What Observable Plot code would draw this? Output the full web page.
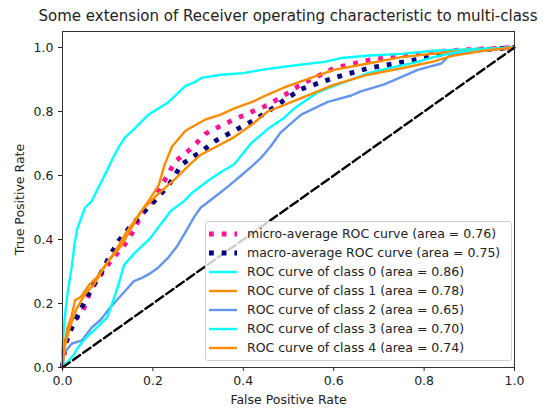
<!DOCTYPE html>
<html><head><meta charset="utf-8">
<script src="https://cdn.jsdelivr.net/npm/d3@7"></script>
<script src="https://cdn.jsdelivr.net/npm/@observablehq/plot@0.6"></script>
<style>
body{margin:0;background:#fff;font-family:"DejaVu Sans",sans-serif;}
#wrap{position:relative;width:552px;height:408px;overflow:hidden;}
#title{height:28px;box-sizing:border-box;padding-top:9px;padding-left:24px;font-size:15px;line-height:15px;text-align:center;color:#222;white-space:nowrap;}
#legend{position:absolute;left:205px;top:221px;width:307px;box-sizing:border-box;background:rgba(255,255,255,0.8);border:1px solid #d0d0d0;border-radius:3px;padding:2px 0 3px 0;font-size:12.5px;color:#222;}
.row{height:19px;display:flex;align-items:center;white-space:nowrap;}
.row svg{margin-left:3px;margin-right:10px;flex:none;}
</style></head>
<body>
<div id="wrap">
<div id="title">Some extension of Receiver operating characteristic to multi-class</div>
<div id="chart"></div>
<div id="legend"></div>
</div>
<script>
// ---- data ----
const fprMicro = [0, 0.005, 0.02, 0.043, 0.065, 0.09, 0.11, 0.13, 0.146, 0.176, 0.2, 0.22, 0.25, 0.286, 0.316, 0.35, 0.38, 0.42, 0.454, 0.49, 0.528, 0.6, 0.676, 0.75, 0.85, 1];
const tprMicro = [0, 0.06, 0.14, 0.17, 0.25, 0.3, 0.34, 0.37, 0.40, 0.48, 0.52, 0.57, 0.645, 0.686, 0.73, 0.755, 0.775, 0.80, 0.82, 0.85, 0.885, 0.935, 0.96, 0.975, 0.99, 1];
const fprMacro = [0, 0.005, 0.021, 0.04, 0.058, 0.087, 0.105, 0.124, 0.15, 0.183, 0.21, 0.235, 0.264, 0.308, 0.34, 0.38, 0.42, 0.454, 0.49, 0.528, 0.6, 0.676, 0.786, 0.82, 0.9, 1];
const tprMacro = [0, 0.07, 0.125, 0.18, 0.23, 0.30, 0.35, 0.395, 0.44, 0.49, 0.53, 0.57, 0.635, 0.676, 0.71, 0.74, 0.77, 0.80, 0.835, 0.87, 0.905, 0.935, 0.963, 0.975, 0.99, 1];
const fpr0 = [0, 0, 0.003, 0.006, 0.012, 0.021, 0.026, 0.032, 0.042, 0.05, 0.065, 0.075, 0.086, 0.1, 0.11, 0.125, 0.139, 0.155, 0.169, 0.19, 0.213, 0.235, 0.257, 0.272, 0.29, 0.308, 0.35, 0.4, 0.44, 0.49, 0.53, 0.58, 0.616, 0.68, 0.75, 0.82, 0.9, 1];
const tpr0 = [0, 0.06, 0.12, 0.17, 0.24, 0.32, 0.38, 0.43, 0.47, 0.50, 0.52, 0.55, 0.58, 0.62, 0.65, 0.69, 0.72, 0.74, 0.76, 0.79, 0.81, 0.83, 0.86, 0.88, 0.89, 0.905, 0.915, 0.92, 0.93, 0.94, 0.947, 0.955, 0.967, 0.975, 0.98, 0.99, 0.995, 1];
const fpr1 = [0, 0.003, 0.01, 0.02, 0.028, 0.04, 0.06, 0.075, 0.09, 0.105, 0.12, 0.14, 0.165, 0.19, 0.213, 0.225, 0.242, 0.272, 0.316, 0.35, 0.38, 0.42, 0.454, 0.49, 0.528, 0.6, 0.676, 0.75, 0.85, 0.92, 1];
const tpr1 = [0, 0.05, 0.12, 0.16, 0.21, 0.22, 0.26, 0.28, 0.31, 0.34, 0.37, 0.42, 0.47, 0.52, 0.57, 0.63, 0.69, 0.74, 0.775, 0.79, 0.81, 0.83, 0.853, 0.875, 0.894, 0.93, 0.95, 0.97, 0.985, 0.993, 1];
const fpr2 = [0, 0.002, 0.006, 0.021, 0.043, 0.065, 0.085, 0.106, 0.12, 0.139, 0.158, 0.176, 0.195, 0.21, 0.235, 0.254, 0.275, 0.291, 0.306, 0.32, 0.343, 0.37, 0.395, 0.42, 0.439, 0.46, 0.483, 0.528, 0.587, 0.639, 0.66, 0.712, 0.786, 0.838, 0.86, 0.92, 1];
const tpr2 = [0, 0.03, 0.05, 0.075, 0.085, 0.125, 0.15, 0.188, 0.21, 0.24, 0.27, 0.28, 0.295, 0.31, 0.345, 0.38, 0.43, 0.47, 0.50, 0.515, 0.54, 0.57, 0.60, 0.63, 0.655, 0.69, 0.735, 0.79, 0.83, 0.85, 0.863, 0.885, 0.93, 0.95, 0.98, 0.99, 1];
const fpr3 = [0, 0.005, 0.013, 0.025, 0.035, 0.05, 0.065, 0.08, 0.099, 0.11, 0.124, 0.136, 0.161, 0.195, 0.213, 0.24, 0.269, 0.286, 0.321, 0.35, 0.38, 0.417, 0.454, 0.49, 0.513, 0.565, 0.6, 0.64, 0.676, 0.72, 0.786, 0.82, 0.87, 0.93, 1];
const tpr3 = [0, 0.01, 0.02, 0.04, 0.063, 0.09, 0.11, 0.13, 0.157, 0.2, 0.26, 0.32, 0.36, 0.405, 0.44, 0.49, 0.52, 0.545, 0.583, 0.61, 0.635, 0.70, 0.745, 0.78, 0.81, 0.86, 0.88, 0.90, 0.92, 0.935, 0.955, 0.97, 0.985, 0.995, 1];
const fpr4 = [0, 0.004, 0.015, 0.03, 0.05, 0.07, 0.1, 0.13, 0.15, 0.175, 0.21, 0.25, 0.286, 0.306, 0.34, 0.38, 0.42, 0.454, 0.49, 0.528, 0.6, 0.676, 0.75, 0.82, 0.86, 0.93, 1];
const tpr4 = [0, 0.06, 0.12, 0.18, 0.23, 0.26, 0.33, 0.38, 0.43, 0.49, 0.54, 0.59, 0.64, 0.665, 0.69, 0.72, 0.76, 0.80, 0.82, 0.842, 0.883, 0.915, 0.935, 0.956, 0.973, 0.99, 1];
const diagX = [0, 1];
const diagY = [0, 1];
const seriesLabels = [
  "micro-average ROC curve (area = 0.76)",
  "macro-average ROC curve (area = 0.75)",
  "ROC curve of class 0 (area = 0.86)",
  "ROC curve of class 1 (area = 0.78)",
  "ROC curve of class 2 (area = 0.65)",
  "ROC curve of class 3 (area = 0.70)",
  "ROC curve of class 4 (area = 0.74)"
];
const xTicks = [0, 0.2, 0.4, 0.6, 0.8, 1.0];
const yTicks = [0, 0.2, 0.4, 0.6, 0.8, 1.0];

// ---- styling ----
const styles = [
  {stroke: "deeppink", width: 4.8, dash: "4.8,7.9"},
  {stroke: "navy", width: 4.8, dash: "4.8,7.9"},
  {stroke: "aqua", width: 2.4, dash: null},
  {stroke: "darkorange", width: 2.4, dash: null},
  {stroke: "cornflowerblue", width: 2.4, dash: null},
  {stroke: "aqua", width: 2.4, dash: null},
  {stroke: "darkorange", width: 2.4, dash: null}
];
const fprs = [fprMicro, fprMacro, fpr0, fpr1, fpr2, fpr3, fpr4];
const tprs = [tprMicro, tprMacro, tpr0, tpr1, tpr2, tpr3, tpr4];

const lineMarks = fprs.map((f, i) => {
  const data = f.map((x, j) => ({x, y: tprs[i][j]}));
  const s = styles[i];
  return Plot.line(data, {x: "x", y: "y", stroke: s.stroke, strokeWidth: s.width,
    strokeDasharray: s.dash || undefined, strokeLinejoin: "round", strokeLinecap: "butt"});
});
const diag = diagX.map((x, j) => ({x, y: diagY[j]}));

const chart = Plot.plot({
  width: 552,
  height: 380,
  marginTop: 3,
  marginLeft: 62,
  marginRight: 38,
  marginBottom: 41,
  x: {domain: [0, 1]},
  y: {domain: [0, 1.05]},
  style: {fontFamily: "DejaVu Sans, sans-serif", fontSize: "12.5px", color: "#222", background: "transparent"},
  marks: [
    ...lineMarks,
    Plot.line(diag, {x: "x", y: "y", stroke: "black", strokeWidth: 2.4, strokeDasharray: "8.9,3.8"}),
    Plot.frame({stroke: "#333", strokeWidth: 1}),
    Plot.axisX({ticks: xTicks, tickFormat: d => d.toFixed(1), tickSize: 4, tickPadding: 5,
      label: "False Positive Rate", labelAnchor: "center", labelArrow: "none", labelOffset: 36}),
    Plot.axisY({ticks: yTicks, tickFormat: d => d.toFixed(1), tickSize: 4, tickPadding: 5,
      label: "True Positive Rate", labelAnchor: "center", labelArrow: "none", labelOffset: 47})
  ]
});
document.getElementById("chart").appendChild(chart);

// ---- legend ----
const leg = document.getElementById("legend");
seriesLabels.forEach((lab, i) => {
  const s = styles[i];
  const row = document.createElement("div");
  row.className = "row";
  const dash = s.dash ? ` stroke-dasharray="${s.dash}"` : "";
  row.innerHTML = `<svg width="28" height="10"><line x1="0" x2="28" y1="5" y2="5" stroke="${s.stroke}" stroke-width="${s.width}"${dash}/></svg><span>${lab}</span>`;
  leg.appendChild(row);
});
</script>
</body></html>
